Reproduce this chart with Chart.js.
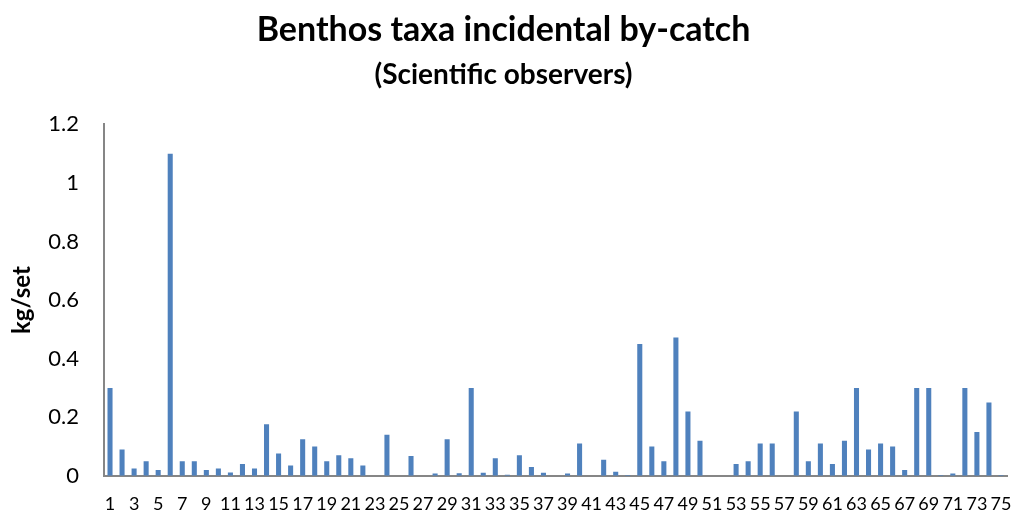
<!DOCTYPE html>
<html><head><meta charset="utf-8">
<script src="https://cdn.jsdelivr.net/npm/chart.js@4/dist/chart.umd.min.js"></script>
<style>html,body{margin:0;padding:0;background:#fff}#wrap{width:1015px;height:514px}</style>
</head><body><div id="wrap"><canvas id="c"></canvas></div>
<script>
const categories = Array.from({length: 75}, (_, i) => String(i + 1));
const values = [
  0.30, 0.09, 0.025, 0.05, 0.02, 1.10, 0.05, 0.05, 0.02, 0.025,
  0.011, 0.04, 0.025, 0.176, 0.076, 0.035, 0.125, 0.10, 0.05, 0.07,
  0.06, 0.035, 0, 0.14, 0, 0.068, 0, 0.008, 0.125, 0.009,
  0.30, 0.01, 0.06, 0.004, 0.07, 0.03, 0.01, 0, 0.008, 0.11,
  0, 0.055, 0.014, 0.003, 0.45, 0.10, 0.05, 0.472, 0.22, 0.12,
  0, 0, 0.04, 0.05, 0.11, 0.11, 0, 0.22, 0.05, 0.11,
  0.04, 0.12, 0.30, 0.09, 0.11, 0.10, 0.02, 0.30, 0.30, 0.003,
  0.008, 0.30, 0.15, 0.25, 0.003
];
const yTicks = [0, 0.2, 0.4, 0.6, 0.8, 1, 1.2];
const titleText = 'Benthos taxa incidental by-catch';
const subtitleText = '(Scientific observers)';
const yTitle = 'kg/set';

new Chart(document.getElementById('c'), {
  type: 'bar',
  data: { labels: categories, datasets: [{ data: values, backgroundColor: '#4f81bd', categoryPercentage: 1, barPercentage: 0.42 }] },
  options: {
    responsive: true, maintainAspectRatio: false, animation: false,
    layout: { padding: { left: 0, right: 8, top: 8, bottom: 0 } },
    plugins: {
      legend: { display: false }, tooltip: { enabled: false },
      title: { display: true, text: titleText, color: '#000', font: { family: 'Lato', size: 34, weight: 'bold' }, padding: { top: 2, bottom: 4 } },
      subtitle: { display: true, text: subtitleText, color: '#000', font: { family: 'Lato', size: 28, weight: 'bold' }, padding: { top: 3, bottom: 33 } }
    },
    scales: {
      x: {
        afterFit: (s) => { s.height = 38; s.paddingLeft = 0; s.paddingRight = 0; },
        grid: { display: false, drawTicks: false }, border: { display: true, color: '#868686', width: 2 },
        ticks: { autoSkip: false, maxRotation: 0, minRotation: 0, color: '#000', padding: 18,
          font: { family: 'Lato', size: 18 },
          callback: function(v, i) { return i % 2 === 0 ? categories[i] : ''; } }
      },
      y: {
        min: 0, max: 1.2,
        afterFit: (s) => { s.width = 104; },
        afterBuildTicks: (s) => { s.ticks = yTicks.map(v => ({ value: v })); },
        grid: { display: false, drawTicks: false }, border: { display: true, color: '#868686', width: 2 },
        ticks: { color: '#000', padding: 25, font: { family: 'Lato', size: 22 },
          callback: (v) => String(Math.round(v * 10) / 10) },
        title: { display: true, text: yTitle, color: '#000', font: { family: 'Lato', size: 24, weight: 'bold' }, padding: { top: 8, bottom: 0 } }
      }
    }
  }
});
</script></body></html>
